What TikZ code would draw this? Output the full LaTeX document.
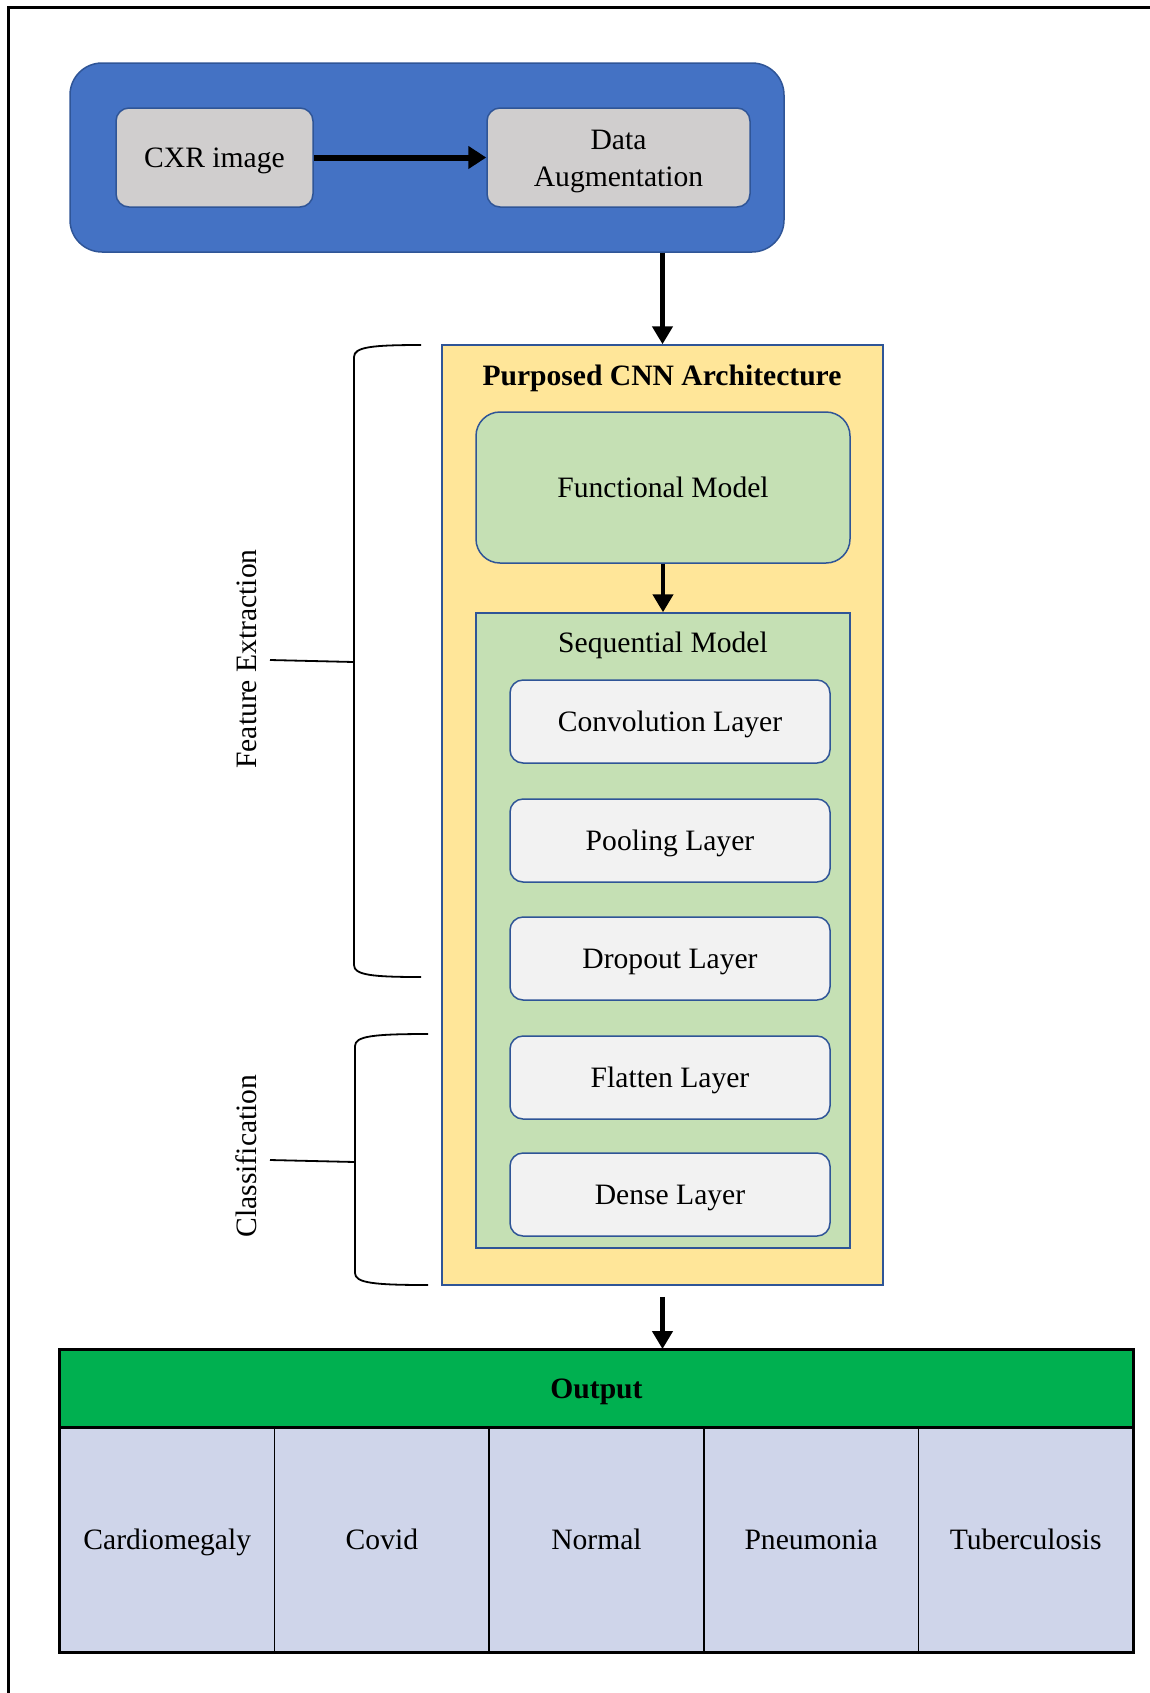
\documentclass[tikz,border=0pt]{standalone}
\usepackage{fontspec}
\setmainfont{Liberation Serif}
\usetikzlibrary{fit,arrows.meta}

\definecolor{prepblue}{HTML}{4472C4}
\definecolor{edgeblue}{HTML}{2F5597}
\definecolor{boxgray}{HTML}{D0CECE}
\definecolor{archyellow}{HTML}{FFE699}
\definecolor{modelgreen}{HTML}{C5E0B4}
\definecolor{layergray}{HTML}{F2F2F2}
\definecolor{outgreen}{HTML}{00B050}
\definecolor{classblue}{HTML}{CFD5EA}

\newcommand{\labelsize}{\fontsize{14.8pt}{18.5pt}\selectfont}

\begin{document}
\begin{tikzpicture}[x=0.5pt,y=-0.5pt,
  box/.style={draw=edgeblue, line width=0.75pt, inner sep=0pt},
  roundbox/.style={box, rounded corners=6.5pt},
  layerbox/.style={roundbox, fill=layergray},
  cell/.style={draw=black, line width=0.75pt, inner sep=0pt, fill=classblue},
  txt/.style={font=\labelsize, align=center, inner sep=0pt},
  line/.style={txt, text height=12pt, text depth=1.6pt},
  arr/.style={-{Triangle[length=9pt,width=10pt]}, line width=2.2pt},
  bracket/.style={line width=0.9pt}
]
\useasboundingbox (0,0) rectangle (1150,1693);

% page frame
\draw[line width=1.5pt] (8,1693) -- (8,7) -- (1150,7);

% preprocessing stage
\node[box, fill=prepblue, rounded corners=16pt, fit={(70,63) (784,252)}] (prep) {};
\node[roundbox, fill=boxgray, fit={(116,108) (313,207)}] (cxr) {};
\node[line] (cxrtext) at (cxr.center) {CXR image};
\node[roundbox, fill=boxgray, fit={(487,108) (750,207)}] (aug) {};
\node[txt] (augtext) at ([yshift=-2pt]aug.center) {Data\\Augmentation};
\draw[line width=3pt, -{Triangle[length=9pt,width=11pt]}] (cxr) -- (aug);

% CNN architecture
\node[box, fill=archyellow, fit={(442,345) (883,1285)}] (arch) {};
\node[line, font=\labelsize\bfseries] (title) at (662,375) {Purposed CNN Architecture};
\node[box, fill=modelgreen, rounded corners=12pt, fit={(476,412) (850,563)}] (func) {};
\node[line] (functext) at (func.center) {Functional Model};
\node[box, fill=modelgreen, fit={(476,613) (850,1248)}] (seq) {};
\node[line] (seqtitle) at (663,642) {Sequential Model};
\node[layerbox, fit={(510,680) (830,763)}] (conv) {};
\node[line] (convtext) at (conv.center) {Convolution Layer};
\node[layerbox, fit={(510,799) (830,882)}] (pool) {};
\node[line] (pooltext) at (pool.center) {Pooling Layer};
\node[layerbox, fit={(510,917) (830,1000)}] (drop) {};
\node[line] (droptext) at (drop.center) {Dropout Layer};
\node[layerbox, fit={(510,1036) (830,1119)}] (flat) {};
\node[line] (flattext) at (flat.center) {Flatten Layer};
\node[layerbox, fit={(510,1153) (830,1236)}] (dense) {};
\node[line] (densetext) at (dense.center) {Dense Layer};

\draw[arr] (prep.south -| arch.north) -- (arch.north);
\draw[arr] (func.south) -- (seq.north);

% brackets grouping the layers
\draw[bracket] (421,345) .. controls (372,345) and (354,347) .. (354,357)
  -- (354,965) .. controls (354,975) and (372,977) .. (421,977);
\draw[bracket] (270,660) -- (354,662);
\node[line, rotate=90] (fe) at (246,659) {Feature Extraction};

\draw[bracket] (428,1034) .. controls (374,1034) and (355,1036) .. (355,1046)
  -- (355,1273) .. controls (355,1283) and (374,1285) .. (428,1285);
\draw[bracket] (270,1160) -- (355,1162);
\node[line, rotate=90] (cls) at (246,1156) {Classification};

% output table
\node[draw=black, line width=1pt, fill=outgreen, inner sep=0pt,
      fit={(60,1350) (1133,1427)}] (out) {};
\node[line, font=\labelsize\bfseries] (outtext) at (out.center) {Output};
\node[cell, fit={(60,1427) (274.6,1652)}] (c1) {};
\node[cell, fit={(274.6,1427) (489.2,1652)}] (c2) {};
\node[cell, fit={(489.2,1427) (703.8,1652)}] (c3) {};
\node[cell, fit={(703.8,1427) (918.4,1652)}] (c4) {};
\node[cell, fit={(918.4,1427) (1133,1652)}] (c5) {};
\node[line] (c1text) at (c1.center) {Cardiomegaly};
\node[line] (c2text) at (c2.center) {Covid};
\node[line] (c3text) at (c3.center) {Normal};
\node[line] (c4text) at (c4.center) {Pneumonia};
\node[line] (c5text) at (c5.center) {Tuberculosis};
\draw[line width=1.3pt] (out.north west) rectangle (c5.south east);
\draw[line width=1.3pt] (out.south west) -- (out.south east);

\draw[arr] ([yshift=-5.5pt]arch.south) -- (arch.south |- out.north);
\end{tikzpicture}
\end{document}
